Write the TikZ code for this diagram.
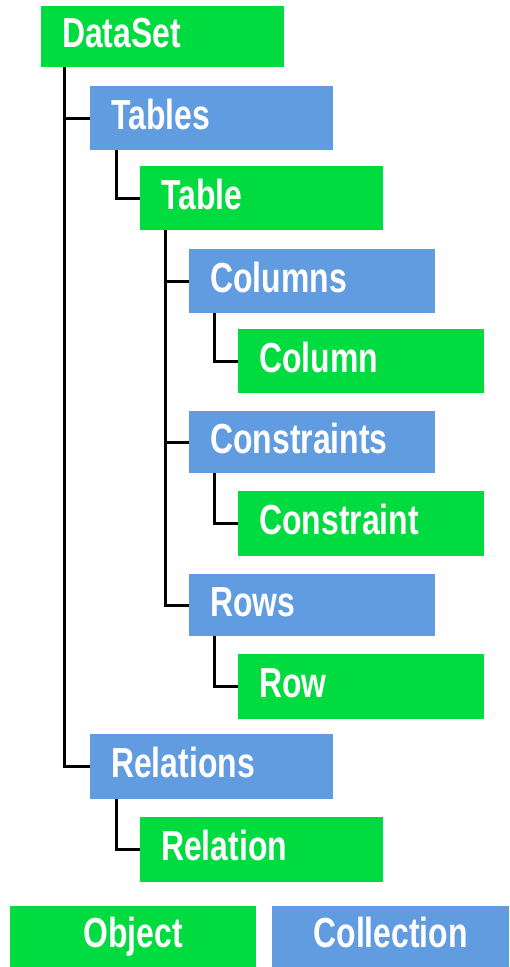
\documentclass[tikz,border=0pt]{standalone}
\usepackage{fontspec}
\setmainfont{Liberation Sans}[FakeStretch=0.76]
\usetikzlibrary{calc}
\definecolor{objgreen}{RGB}{0,219,64}
\definecolor{colblue}{RGB}{98,156,224}
\begin{document}
\begin{tikzpicture}[x=1pt,y=-1pt,
  box/.style={rectangle, anchor=north west, inner xsep=21pt, inner ysep=0pt,
    text width=201pt, align=left, text height=30pt, text depth=8pt,
    minimum height=64pt, text=white, font=\fontsize{42}{48}\selectfont\bfseries},
  object/.style={box, fill=objgreen},
  collection/.style={box, fill=colblue},
  wide/.style={text width=204pt},
  link/.style={draw=black, line width=2.7pt}]

% canvas
\fill[white] (0,0) rectangle (509,967);
\useasboundingbox (0,0) rectangle (509,967);

% hierarchy
\node[object, minimum height=61pt] (dataset) at (41,6) {DataSet};
\node[collection] (tables) at (90,86) {Tables};
\node[object] (table) at (140,166) {Table};
\node[collection, wide] (columns) at (189,249) {Columns};
\node[object, wide] (column) at (238,329) {Column};
\node[collection, wide, minimum height=62pt] (constraints) at (189,411) {Constraints};
\node[object, wide, minimum height=65pt] (constraint) at (238,491) {Constraint};
\node[collection, wide, minimum height=62pt] (rows) at (189,574) {Rows};
\node[object, wide, minimum height=65pt] (row) at (238,654) {Row};
\node[collection, minimum height=65pt] (relations) at (90,734) {Relations};
\node[object, minimum height=65pt] (relation) at (140,817) {Relation};

% legend
\node[object, wide, align=center, minimum height=61pt] (legobj) at (10,906) {Object};
\node[collection, text width=195pt, align=center, minimum height=61pt] (legcol) at (272,906) {Collection};

% tree connectors
\draw[link] ($(dataset.south west)+(23.5,0)$) |- (tables.west);
\draw[link] ($(dataset.south west)+(23.5,0)$) |- (relations.west);
\draw[link] ($(tables.south west)+(26.5,0)$) |- (table.west);
\draw[link] ($(table.south west)+(25.5,0)$) |- (columns.west);
\draw[link] ($(table.south west)+(25.5,0)$) |- (constraints.west);
\draw[link] ($(table.south west)+(25.5,0)$) |- (rows.west);
\draw[link] ($(columns.south west)+(25.5,0)$) |- (column.west);
\draw[link] ($(constraints.south west)+(25.5,0)$) |- (constraint.west);
\draw[link] ($(rows.south west)+(25.5,0)$) |- (row.west);
\draw[link] ($(relations.south west)+(26.5,0)$) |- (relation.west);
\end{tikzpicture}
\end{document}
